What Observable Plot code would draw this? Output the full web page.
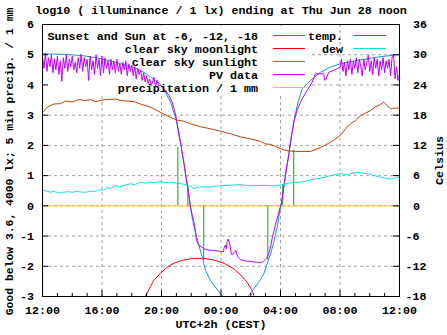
<!DOCTYPE html>
<html><head><meta charset="utf-8">
<script src="https://cdn.jsdelivr.net/npm/d3@7"></script>
<script src="https://cdn.jsdelivr.net/npm/@observablehq/plot@0.6"></script>
<style>body{margin:0;background:#fff}</style>
</head><body><div id="chart"></div>
<script>
// ---------- texts ----------
const titleText = "log10 ( illuminance / 1 lx) ending at Thu Jun 28 noon";
const xLabelText = "UTC+2h (CEST)";
const yLabelText = "Good below 3.6, 4000 lx; 5 min precip. / 1 mm";
const y2LabelText = "Celsius";

// ---------- ticks (x in hours after 12:00) ----------
const xTickHours = [0, 4, 8, 12, 16, 20, 24];
const xTickLabels = ["12:00", "16:00", "20:00", "00:00", "04:00", "08:00", "12:00"];
const xMinorHours = [1, 2, 3, 5, 6, 7, 9, 10, 11, 13, 14, 15, 17, 18, 19, 21, 22, 23];
const yTicks = [-3, -2, -1, 0, 1, 2, 3, 4, 5, 6];
const celsiusTicks = [-18, -12, -6, 0, 6, 12, 18, 24, 30, 36];
const celsiusPerLogUnit = 6; // right axis -18..36 spans left axis -3..6

// ---------- legend ----------
const keyLeftLabels = ["Sunset and Sun at -6, -12, -18", "clear sky moonlight", "clear sky sunlight", "PV data", "precipitation / 1 mm"];
const keyRightLabels = ["temp.", "dew"];

// ---------- data: [hour after 12:00, log10 lux] ----------
const sunEventHours = [9.10, 9.77, 10.84, 15.15, 16.15, 16.89];
const sunEventLevels = [1.93, 0.6, -1.82, -1.8, 0.7, 1.85];

const moonlight = [[6.9,-3.05],[6.94,-2.97],[7.26,-2.67],[7.48,-2.47],[7.93,-2.23],[8.38,-2.03],[8.83,-1.90],[9.5,-1.79],[10.17,-1.74],[10.84,-1.74],[11.52,-1.79],[12.19,-1.90],[12.86,-2.08],[13.31,-2.28],[13.76,-2.53],[14.1,-2.80],[14.21,-2.97],[14.25,-3.05]];

const sunlight = [[0,5.03],[1.5,5.01],[2.7,4.97],[3.6,4.9],[4.3,4.83],[5.0,4.74],[5.7,4.64],[6.2,4.56],[6.6,4.48],[7.0,4.36],[7.26,4.26],[7.6,4.15],[7.9,4.04],[8.15,3.88],[8.38,3.65],[8.6,3.45],[8.8,3.15],[8.94,2.93],[9.16,2.45],[9.3,2.05],[9.39,1.72],[9.55,1.28],[9.68,0.84],[9.84,0.39],[9.95,-0.05],[10.1,-0.49],[10.29,-0.9],[10.51,-1.3],[10.74,-1.70],[10.96,-2.14],[11.29,-2.47],[11.63,-2.69],[11.97,-2.91],[12.5,-3.2],[13.0,-3.3],[13.5,-3.15],[13.87,-2.97],[14.2,-2.75],[14.54,-2.53],[14.88,-2.25],[15.1,-1.92],[15.33,-1.59],[15.55,-1.2],[15.78,-0.71],[15.95,-0.16],[16.07,0.1],[16.22,0.62],[16.38,1.17],[16.56,1.72],[16.72,2.27],[16.89,2.77],[17.0,3.04],[17.12,3.3],[17.25,3.55],[17.46,3.87],[17.75,4.02],[18.02,4.15],[18.69,4.42],[19.36,4.59],[20.03,4.70],[21.16,4.81],[22.5,4.92],[23.85,5.0],[24,5.02]];

const pvData = [[0,4.95],[0.1,4.55],[0.2,5.05],[0.3,4.45],[0.4,4.9],[0.5,4.6],[0.6,5.0],[0.7,4.4],[0.8,4.85],[0.9,4.5],[1.0,4.95],[1.1,4.35],[1.2,4.8],[1.3,4.12],[1.4,4.9],[1.5,4.55],[1.6,5.0],[1.7,4.45],[1.8,4.85],[1.9,4.6],[2.0,4.95],[2.1,4.5],[2.2,4.75],[2.3,4.4],[2.4,4.9],[2.5,4.55],[2.6,5.02],[2.7,4.45],[2.8,4.9],[2.9,4.6],[3.0,4.85],[3.1,4.15],[3.2,4.95],[3.3,4.5],[3.4,4.8],[3.5,4.35],[3.6,5.0],[3.7,4.55],[3.8,4.85],[3.9,4.3],[4.0,4.95],[4.1,4.4],[4.2,4.9],[4.3,4.55],[4.4,4.8],[4.5,4.35],[4.6,4.85],[4.7,4.5],[4.8,4.78],[4.9,4.4],[5.0,4.85],[5.1,4.45],[5.2,4.7],[5.3,4.35],[5.4,4.75],[5.5,4.5],[5.6,4.8],[5.7,4.3],[5.8,4.7],[5.9,4.45],[6.0,4.65],[6.1,4.3],[6.2,4.6],[6.3,4.2],[6.4,4.55],[6.5,4.35],[6.6,4.5],[6.7,4.15],[6.8,4.4],[6.9,4.1],[7.0,4.3],[7.1,4.05],[7.2,4.2],[7.3,3.98],[7.4,4.1],[7.5,4.25],[7.6,3.95],[7.7,4.15],[7.8,3.98],
[7.93,3.98],[8.27,3.81],[8.5,3.65],[8.72,3.43],[8.87,3.16],[9.01,2.88],[9.09,2.6],[9.2,2.27],[9.32,2.0],[9.42,1.65],[9.5,1.44],[9.61,1.06],[9.73,0.73],[9.84,0.34],[9.95,-0.05],[10.06,-0.3],[10.17,-0.49],[10.28,-0.82],[10.35,-1.15],[10.51,-1.31],[10.73,-1.37],[10.84,-1.42],[11.07,-1.46],[11.5,-1.48],[11.9,-1.5],[12.17,-1.52],[12.2,-1.4],[12.3,-1.3],[12.35,-1.42],[12.42,-1.18],[12.47,-1.1],[12.55,-1.2],[12.62,-1.35],[12.7,-1.6],[12.78,-1.62],[12.85,-1.55],[12.95,-1.52],[13.0,-1.48],[13.07,-1.62],[13.15,-1.7],[13.3,-1.78],[13.6,-1.82],[14.0,-1.84],[14.4,-1.87],[14.75,-1.87],[14.86,-1.84],[15.0,-1.78],[15.1,-1.7],[15.2,-1.6],[15.28,-1.45],[15.35,-1.3],[15.45,-1.05],[15.55,-0.85],[15.7,-0.55],[15.8,-0.38],[15.95,-0.1],[16.07,0.1],[16.22,0.6],[16.38,1.15],[16.56,1.7],[16.72,2.25],[16.89,2.75],[17.1,3.15],[17.3,3.38],[17.46,3.54],[17.79,3.82],[18.13,4.09],[18.35,4.37],[18.9,4.37],[18.97,4.15],[19.05,4.18],[19.25,4.42],[19.58,4.48],[20.0,4.59],
[20.1,4.85],[20.2,4.45],[20.3,4.75],[20.4,4.3],[20.5,4.8],[20.6,4.5],[20.7,4.85],[20.8,4.35],[20.9,4.8],[21.0,4.55],[21.1,4.9],[21.2,4.4],[21.3,4.85],[21.4,4.6],[21.5,4.3],[21.6,4.85],[21.7,4.5],[21.8,4.75],[21.9,4.98],[22.0,4.45],[22.1,4.8],[22.2,4.35],[22.3,4.9],[22.4,4.55],[22.5,4.85],[22.6,4.3],[22.7,4.8],[22.8,4.5],[22.9,4.9],[23.0,4.4],[23.1,4.8],[23.2,4.55],[23.3,4.85],[23.4,4.3],[23.5,4.9],[23.6,5.02],[23.7,4.2],[23.8,4.6],[23.9,4.15],[24.0,4.35]];

const precipHours = [0, 4, 8, 12, 16, 20, 24];
const precipMm = [0, 0, 0, 0, 0, 0, 0];

// ---------- data: [hour after 12:00, Celsius] ----------
const temperature = [[0,18.5],[0.32,19.6],[0.76,20.2],[1.21,20.3],[1.55,20.8],[2.0,20.6],[2.44,21.1],[2.89,20.9],[3.23,21.1],[3.56,20.7],[3.9,20.9],[4.24,21.1],[4.57,21.1],[4.91,21.2],[5.24,20.9],[5.69,20.8],[6.14,20.7],[6.59,20.2],[6.92,19.9],[7.26,19.6],[7.71,18.9],[8.15,18.2],[8.61,17.6],[9.06,17.0],[9.5,16.8],[9.95,16.3],[10.62,15.7],[11.29,15.3],[11.97,14.8],[12.64,14.3],[13.31,13.7],[13.98,13.3],[14.66,12.8],[14.99,12.3],[15.33,12.2],[15.66,11.8],[16.22,11.1],[16.56,10.9],[17.01,10.8],[17.68,10.8],[18.02,10.8],[18.47,11.3],[18.91,11.9],[19.58,13.0],[20.03,14.0],[20.37,15.3],[20.71,16.3],[21.04,16.9],[21.38,17.9],[21.71,18.4],[22.05,18.9],[22.39,19.7],[22.72,20.1],[22.94,20.6],[23.17,19.9],[23.39,19.3],[23.62,19.4],[24,19.4]];

const dewPoint = [[0,3.1],[0.3,2.9],[0.54,2.7],[0.8,2.9],[1.1,2.5],[1.4,2.7],[1.66,2.8],[2.0,2.7],[2.33,2.85],[2.7,2.7],[3.0,2.75],[3.2,2.9],[3.45,2.85],[3.7,3.0],[3.9,3.2],[4.1,3.1],[4.35,3.6],[4.6,3.5],[4.91,4.0],[5.2,3.8],[5.47,4.0],[5.7,4.2],[5.92,4.4],[6.2,4.2],[6.59,4.7],[6.9,4.5],[7.26,4.7],[7.6,4.6],[7.93,4.8],[8.3,4.6],[8.61,4.7],[9.0,4.5],[9.28,4.4],[9.5,4.3],[9.73,4.0],[10.0,3.8],[10.17,3.4],[10.4,3.7],[10.62,3.7],[11.0,3.8],[11.29,3.7],[11.6,3.9],[11.97,4.0],[12.6,4.1],[13.31,4.2],[13.9,4.0],[14.43,4.0],[14.8,4.1],[15.21,4.0],[15.6,4.0],[16.11,4.2],[16.56,4.5],[16.9,4.6],[17.23,4.7],[17.68,4.8],[18.02,5.2],[18.5,5.4],[19.0,5.7],[19.36,6.0],[20.03,6.4],[20.5,6.2],[21.16,6.7],[21.5,6.5],[21.83,6.4],[22.2,6.1],[22.72,5.7],[23.0,5.5],[23.39,5.3],[23.7,5.5],[24,5.7]];

// ---------- styling ----------
const C = {green:"#00b000", red:"#f00000", blue:"#1c8cf0", purple:"#bb00ff", yellow:"#ffc020", brown:"#c04000", cyan:"#10e0e0", grid:"#a0a0a0"};
const keyLeftColors = [C.green, C.red, C.blue, C.purple, C.yellow];
const keyRightColors = [C.brown, C.cyan];
const FONT = "'Liberation Mono', 'DejaVu Sans Mono', monospace";

const sunEvents = sunEventHours.map((h, i) => ({h, v: sunEventLevels[i]}));
const precip = precipHours.map((h, i) => ({h, v: precipMm[i]}));
const toLog = c => c / celsiusPerLogUnit;

// opaque key background (hides grid, not data)
const keyBackground = (index, scales, values, dims) => {
  const g = d3.create("svg:g");
  g.append("rect").attr("x", dims.marginLeft + 2).attr("y", dims.marginTop + 2)
    .attr("width", 267).attr("height", 67).attr("fill", "white");
  return g.node();
};

const keyMark = (index, scales, values, dims) => {
  const g = d3.create("svg:g").attr("font-family", FONT).attr("font-weight", "bold").attr("font-size", "11.7px");
  const L = dims.marginLeft, T = dims.marginTop;
  const row = (labels, colors, textEnd, lineStart, lineEnd) => labels.forEach((lab, i) => {
    const y = Math.round(T + 10.5 + i * 13.2) + 0.5;
    g.append("text").attr("x", L + textEnd).attr("y", y).attr("dy", "0.36em")
      .attr("text-anchor", "end").attr("fill", "black").text(lab);
    g.append("path").attr("d", `M${L + lineStart},${y}H${L + lineEnd}`)
      .attr("fill", "none").attr("stroke", colors[i]).attr("stroke-width", 1);
  });
  row(keyLeftLabels, keyLeftColors, 216, 231, 263);
  row(keyRightLabels, keyRightColors, 301, 311, 344);
  return g.node();
};

const plotH = 335 - 24 - 39, plotW = 447 - 42 - 48;

const chart = Plot.plot({
  width: 447, height: 335,
  marginLeft: 42, marginRight: 48, marginTop: 24, marginBottom: 39,
  style: {fontFamily: FONT, fontWeight: "bold", fontSize: "11.7px", background: "white", color: "black", overflow: "visible"},
  x: {domain: [0, 24]},
  y: {domain: [-3, 6]},
  marks: [
    Plot.ruleX(xTickHours.slice(1, -1), {x: d => d, stroke: C.grid, strokeDasharray: "3,3", strokeWidth: 1}),
    Plot.ruleY(yTicks.slice(1, -1), {y: d => d, stroke: C.grid, strokeDasharray: "3,3", strokeWidth: 1}),
    keyBackground,
    Plot.line(precip, {x: "h", y: "v", stroke: C.yellow, strokeWidth: 1}),
    Plot.ruleX(sunEvents, {x: "h", y1: 0, y2: "v", stroke: C.green, strokeWidth: 1}),
    Plot.line(moonlight, {x: d => d[0], y: d => d[1], stroke: C.red, strokeWidth: 1, clip: true}),
    Plot.line(sunlight, {x: d => d[0], y: d => d[1], stroke: C.blue, strokeWidth: 1, clip: true}),
    Plot.line(pvData, {x: d => d[0], y: d => d[1], stroke: C.purple, strokeWidth: 1, clip: true}),
    Plot.line(temperature, {x: d => d[0], y: d => toLog(d[1]), stroke: C.brown, strokeWidth: 1}),
    Plot.line(dewPoint, {x: d => d[0], y: d => toLog(d[1]), stroke: C.cyan, strokeWidth: 1}),
    Plot.frame({stroke: "black", strokeWidth: 1}),
    Plot.tickX(xTickHours, {x: d => d, insetTop: plotH - 6, stroke: "black"}),
    Plot.tickX(xMinorHours, {x: d => d, insetTop: plotH - 3, stroke: "black"}),
    Plot.tickY(yTicks, {y: d => d, insetRight: plotW - 6, stroke: "black"}),
    Plot.tickY(celsiusTicks.map(toLog), {y: d => d, insetLeft: plotW - 6, stroke: "black"}),
    Plot.axisX(xTickHours, {tickSize: 0, tickPadding: 9, label: null, tickFormat: d => xTickLabels[xTickHours.indexOf(d)]}),
    Plot.axisY(yTicks, {anchor: "left", tickSize: 0, tickPadding: 8.5, label: null, tickFormat: d => String(d)}),
    Plot.axisY(celsiusTicks.filter(c => c >= 0).map(toLog), {anchor: "right", tickSize: 0, tickPadding: 13.5, label: null, textAnchor: "start", tickFormat: d => String(celsiusTicks.find(c => Math.abs(toLog(c) - d) < 1e-9))}),
    Plot.axisY(celsiusTicks.filter(c => c < 0).map(toLog), {anchor: "right", tickSize: 0, tickPadding: 6, label: null, textAnchor: "start", tickFormat: d => String(celsiusTicks.find(c => Math.abs(toLog(c) - d) < 1e-9))}),
    Plot.text([titleText], {frameAnchor: "top", dy: -19, text: d => d}),
    Plot.text([xLabelText], {frameAnchor: "bottom", dy: 31.5, text: d => d}),
    Plot.text([yLabelText], {frameAnchor: "left", dx: -33, dy: 1, rotate: -90, textAnchor: "middle", fontSize: 11.4, text: d => d}),
    Plot.text([y2LabelText], {frameAnchor: "right", dx: 40, rotate: -90, textAnchor: "middle", text: d => d}),
    keyMark
  ]
});
document.getElementById("chart").append(chart);
</script>
</body></html>
